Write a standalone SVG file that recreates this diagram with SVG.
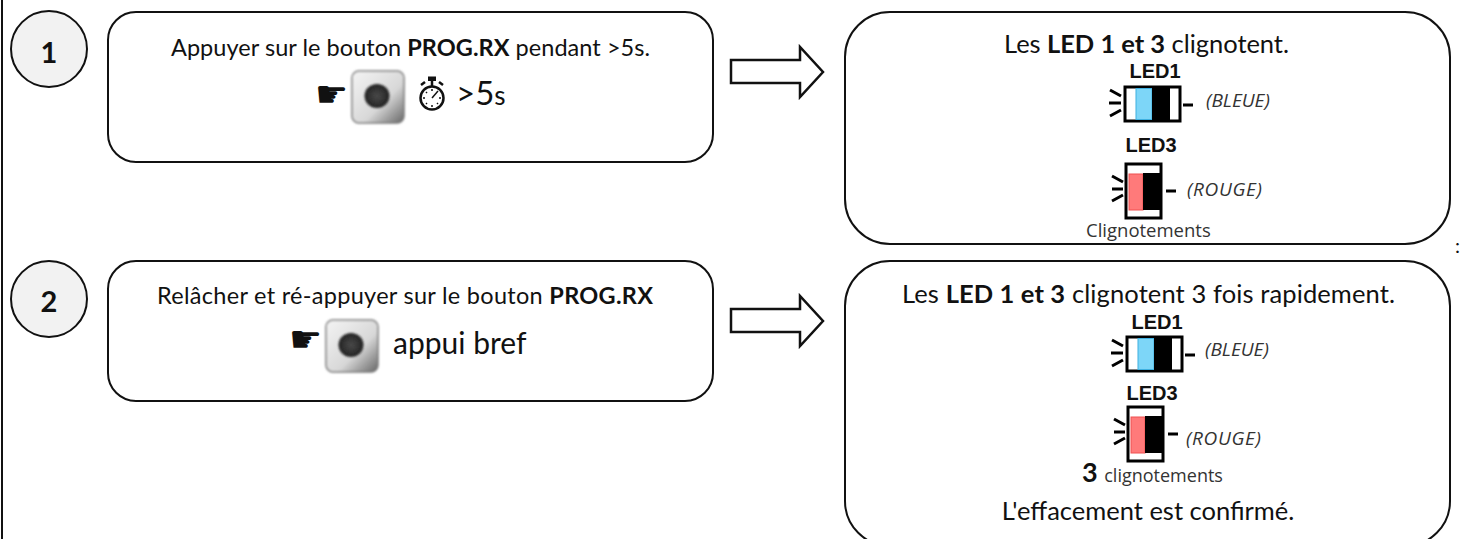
<svg xmlns="http://www.w3.org/2000/svg" width="1467" height="539" viewBox="0 0 1467 539">
<style>
text{font-family:"Lato","Liberation Sans",sans-serif;fill:#111}
.box{fill:#fff;stroke:#111;stroke-width:2}
.num{fill:#f2f2f2;stroke:#111;stroke-width:2}
.arrow{fill:#fff;stroke:#111;stroke-width:2.5}
.t{font-size:23.5px}
.t2{font-size:25.5px}
.b{font-weight:700}
.n{font-size:29px;font-weight:700;text-anchor:middle}
.led{font-family:"Liberation Sans",sans-serif;font-weight:700;font-size:20px;text-anchor:middle}
.col{font-family:"Open Sans",sans-serif;font-style:italic;font-size:19px;fill:#333}
.cl{font-family:"Open Sans",sans-serif;font-size:18.500px;fill:#333}
.ray{stroke:#000;stroke-width:3;fill:none}
.frame{fill:#fff;stroke:#000;stroke-width:3}
.hand{font-family:"DejaVu Sans",sans-serif;font-size:37px;fill:#111}
</style>
<defs>
<linearGradient id="btn" x1="0" y1="0" x2="1" y2="1"><stop offset="0" stop-color="#f4f4f4"/><stop offset=".6" stop-color="#d8d8d8"/><stop offset="1" stop-color="#666"/></linearGradient>
<radialGradient id="dot"><stop offset="0" stop-color="#4a4a4a"/><stop offset="1" stop-color="#222"/></radialGradient>
<filter id="soft" x="-20%" y="-20%" width="140%" height="140%"><feGaussianBlur stdDeviation="0.8"/></filter>
<g id="button"><rect x="0" y="0" width="52" height="52" rx="7" fill="url(#btn)" stroke="#777" stroke-width="1.500" filter="url(#soft)"/><ellipse cx="25" cy="25" rx="12.5" ry="12" fill="url(#dot)" filter="url(#soft)"/></g>
<g id="blue"><rect x="0" y="0" width="55" height="34" class="frame"/><rect x="11" y="1.500" width="16" height="31" fill="#7dd6f8" stroke="#3fb0e0" stroke-width="1"/><rect x="27" y="1" width="18" height="32" fill="#000"/><path class="ray" d="M-15 3L-4 9M-16 16H-4M-15 29L-4 23M58 18H68"/></g>
<g id="red"><rect x="0" y="0" width="35" height="54" class="frame"/><rect x="3" y="10" width="14" height="36" fill="#ff7a7a" stroke="#f05050" stroke-width="1"/><rect x="17" y="9" width="17" height="37" fill="#000"/><path class="ray" d="M-14 12L-3 18M-14 25H-3M-14 37L-3 31M40 27H50"/></g>
</defs>
<line x1="2" y1="0" x2="2" y2="539" stroke="#111" stroke-width="2"/>
<g id="connectors">
<path class="arrow" d="M731 60H800V47L823 72L800 97V83H731Z"/>
<path class="arrow" d="M731 309H800V296L823 321L800 346V332H731Z"/>
</g>
<g id="step1"><circle class="num" cx="49" cy="49" r="38"/><text class="n" x="49" y="62.500">1</text></g>
<g id="step2"><circle class="num" cx="49" cy="299" r="38"/><text class="n" x="49" y="312">2</text></g>
<g id="action1">
<rect class="box" x="108" y="12" width="605" height="150" rx="28"/>
<text class="t" x="171" y="56" textLength="479">Appuyer sur le bouton <tspan class="b">PROG.RX</tspan> pendant &gt;5s.</text>
<text class="hand" x="315" y="107">☛</text>
<use href="#button" x="352" y="71"/>
<g id="stopwatch" fill="none" stroke="#111">
<circle cx="432" cy="98" r="11.500" stroke-width="2.500"/><rect x="428.500" y="77" width="7" height="3.500" fill="#111"/><path d="M432 80V86M421 85L425 82M443 85L439 82" stroke-width="2.500"/>
<path d="M432 98L438 91" stroke-width="1.500"/><path d="M432 89V91M432 105V107M423 98H425M439 98H441M426 92L427 93M438 104L437 103M426 104L427 103" stroke-width="1.500"/>
</g>
<text x="456" y="105" font-size="33">&gt;5<tspan font-size="26">s</tspan></text>
</g>
<g id="action2">
<rect class="box" x="108" y="261" width="605" height="140" rx="28"/>
<text class="t" x="157" y="304" textLength="496">Relâcher et ré-appuyer sur le bouton <tspan class="b">PROG.RX</tspan></text>
<text class="hand" x="289" y="352">☛</text>
<use href="#button" x="326" y="320"/>
<text x="393" y="354" font-size="30">appui bref</text>
</g>
<g id="result1">
<rect class="box" x="845" y="12" width="605" height="232" rx="45"/>
<text class="t2" x="1004" y="53" textLength="285">Les <tspan class="b">LED 1 et 3</tspan> clignotent.</text>
<text class="led" x="1155" y="78">LED1</text>
<use href="#blue" x="1125" y="87"/>
<text class="col" x="1206" y="107">(BLEUE)</text>
<text class="led" x="1151" y="152">LED3</text>
<use href="#red" x="1126" y="164"/>
<text class="col" x="1187" y="196" textLength="75">(ROUGE)</text>
<text class="cl" x="1086" y="237">Clignotements</text>
</g>
<text x="1455" y="253" font-size="20">:</text>
<g id="result2">
<rect class="box" x="845" y="261" width="605" height="285" rx="45"/>
<text class="t2" x="902" y="303" textLength="493">Les <tspan class="b">LED 1 et 3</tspan> clignotent 3 fois rapidement.</text>
<text class="led" x="1157" y="329">LED1</text>
<use href="#blue" x="1127" y="337"/>
<text class="col" x="1205" y="356">(BLEUE)</text>
<text class="led" x="1152" y="400">LED3</text>
<use href="#red" x="1128" y="407"/>
<text class="col" x="1186" y="445" textLength="75">(ROUGE)</text>
<text x="1082" y="482" font-size="27" font-weight="700">3 <tspan class="cl" style="font-size:18px;font-weight:400">clignotements</tspan></text>
<text class="t2" x="1148" y="520" text-anchor="middle">L'effacement est confirmé.</text>
</g>
</svg>
